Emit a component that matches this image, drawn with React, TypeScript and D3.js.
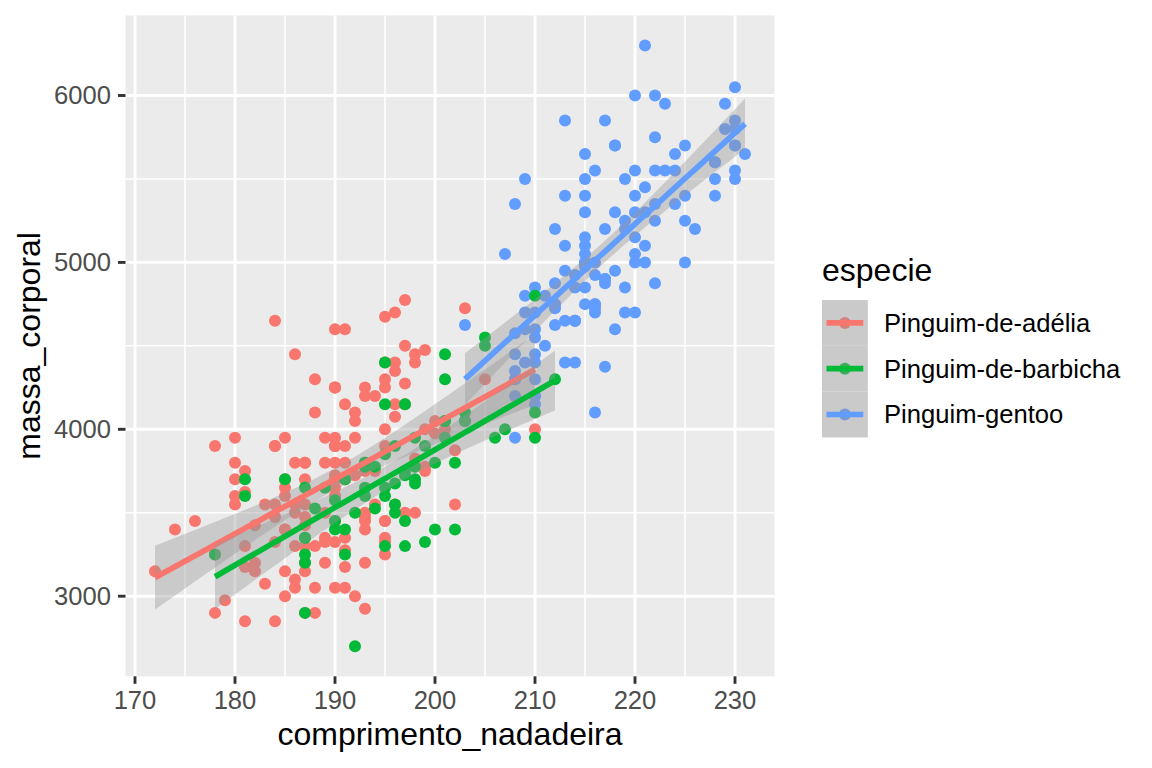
import React from "react";
import * as d3 from "d3";

// ---- data (flipper length mm, body mass g), in dataset order ----
const adeliaFlipper = [181,186,195,193,190,181,195,193,190,186,180,182,191,198,185,195,197,184,194,174,180,189,185,180,187,183,187,172,180,178,178,188,184,195,196,190,180,181,184,182,195,186,196,185,190,182,179,190,191,186,188,190,200,187,191,186,193,181,194,185,195,185,192,184,192,195,188,190,198,190,190,196,197,190,195,191,184,187,195,189,196,187,193,191,194,190,189,189,190,202,205,185,186,187,208,190,196,178,192,192,203,183,190,193,184,199,190,181,197,198,191,193,197,191,196,188,199,189,189,187,198,176,202,186,199,191,195,191,210,190,197,193,199,187,190,191,200,185,193,193,187,188,190,192,185,190,184,195,193,187,201];
const adeliaMass = [3750,3800,3250,3450,3650,3625,4675,3475,4250,3300,3700,3200,3800,4400,3700,3450,4500,3325,4200,3400,3600,3800,3950,3800,3800,3550,3200,3150,3950,3250,3900,3300,3900,3325,4150,3950,3550,3300,4650,3150,3900,3100,4400,3000,4600,3425,2975,3450,4150,3500,4300,3450,4050,2900,3700,3550,3800,2850,3750,3150,4400,3600,4050,2850,3950,3350,4100,3050,4450,3600,3900,3550,4150,3700,4250,3700,3900,3550,4000,3200,4700,3800,4200,3350,3550,3800,3500,3950,3600,3550,4300,3400,4450,3300,4300,3700,4350,2900,4100,3725,4725,3075,4250,2925,3550,3750,3900,3175,4775,3825,4600,3200,4275,3900,4075,2900,3775,3350,3325,3150,3500,3450,3875,3050,4000,3275,4300,3050,4000,3325,3500,3500,4475,3425,3900,3175,3975,3400,4250,3400,3475,3050,3725,3000,3650,4250,3475,3450,3750,3700,4000];
const gentooFlipper = [211,230,210,218,215,210,211,219,209,215,214,216,214,213,210,217,210,221,209,222,218,215,213,215,215,215,216,215,210,220,222,209,207,230,220,220,213,219,208,208,208,225,210,216,222,217,210,225,213,215,210,220,210,225,217,220,208,220,208,224,208,221,214,231,219,230,214,229,220,223,216,221,221,217,216,230,209,220,215,223,212,221,212,224,212,228,218,218,212,230,218,228,212,224,214,226,216,222,203,225,219,228,215,228,216,215,210,219,208,209,216,229,213,230,217,230,217,222,214,215,222,212,213];
const gentooMass = [4500,5700,4450,5700,5400,4550,4800,5200,4400,5150,4650,5550,4650,5850,4200,5850,4150,6300,4800,5350,5700,5000,4400,5050,5000,5100,4100,5650,4600,5550,5250,4700,5050,6050,5150,5400,4950,5250,4350,5350,3950,5700,4300,4750,5550,4900,4200,5400,5100,5300,4850,5300,4400,5000,4900,5050,4300,5000,4450,5550,4200,5300,4400,5650,4700,5700,4650,5800,4700,5550,4750,5000,5100,5200,4700,5800,4600,6000,4750,5950,4625,5450,4725,5350,4750,5600,4600,5300,4875,5550,4950,5400,4750,5650,4850,5200,4925,4875,4625,5250,4850,5600,4975,5500,4725,5500,4700,5500,4575,5500,5000,5950,4650,5500,4375,5850,4875,6000,4925,4850,5750,5200,5400];
const barbichaFlipper = [192,196,193,188,197,198,178,197,195,198,193,194,185,201,190,201,197,181,190,195,181,191,187,193,195,197,200,200,191,205,187,201,187,203,195,199,195,210,192,205,210,187,196,196,196,201,190,212,187,198,199,201,193,203,187,197,191,203,202,194,206,189,195,207,202,193,210,198];
const barbichaMass = [3500,3900,3650,3525,3725,3950,3250,3750,4150,3700,3800,3775,3700,4050,3575,4050,3300,3700,3450,4400,3600,3400,2900,3800,3300,4150,3400,3800,3700,4550,3200,4300,3350,4100,3600,3900,3850,4800,2700,4500,3950,3650,3550,3500,3675,4450,3400,4300,3250,3675,3325,3950,3600,4050,3350,3450,3250,4050,3800,3525,3950,3650,3650,4000,3400,3775,4100,3775];

const speciesNames = ["Pinguim-de-adélia", "Pinguim-de-barbicha", "Pinguim-gentoo"];
const speciesColors = ["#F8766D", "#00BA38", "#619CFF"];
const xTicks = [170, 180, 190, 200, 210, 220, 230];
const xMinor = [175, 185, 195, 205, 215, 225];
const yTicks = [3000, 4000, 5000, 6000];
const yMinor = [3500, 4500, 5500];
const xTitle = "comprimento_nadadeira";
const yTitle = "massa_corporal";
const legendTitle = "especie";

const W = 1152, H = 768;
const panel = { left: 125.5, right: 774.5, top: 15.4, bottom: 676.3 };
const FONT = "'Liberation Sans', Arial, Helvetica, sans-serif";

function tQuantile(df: number) {
  const z = 1.959963985;
  return z + (z ** 3 + z) / (4 * df) + (5 * z ** 5 + 16 * z ** 3 + 3 * z) / (96 * df * df) +
    (3 * z ** 7 + 19 * z ** 5 + 17 * z ** 3 - 15 * z) / (384 * df ** 3);
}

function lmFit(xs: number[], ys: number[]) {
  const n = xs.length;
  const mx = d3.mean(xs)!, my = d3.mean(ys)!;
  let sxx = 0, sxy = 0;
  for (let i = 0; i < n; i++) { sxx += (xs[i] - mx) ** 2; sxy += (xs[i] - mx) * (ys[i] - my); }
  const b = sxy / sxx, a = my - b * mx;
  let sse = 0;
  for (let i = 0; i < n; i++) sse += (ys[i] - a - b * xs[i]) ** 2;
  const s = Math.sqrt(sse / (n - 2));
  const t = tQuantile(n - 2);
  const [lo, hi] = d3.extent(xs) as [number, number];
  return d3.range(80).map((i) => {
    const xv = lo + ((hi - lo) * i) / 79;
    const fit = a + b * xv;
    const se = s * Math.sqrt(1 / n + (xv - mx) ** 2 / sxx);
    return { x: xv, y: fit, lo: fit - t * se, hi: fit + t * se };
  });
}

export default function App() {
  const groups = [
    { xs: adeliaFlipper, ys: adeliaMass },
    { xs: barbichaFlipper, ys: barbichaMass },
    { xs: gentooFlipper, ys: gentooMass },
  ];
  const allX = [...adeliaFlipper, ...gentooFlipper, ...barbichaFlipper];
  const allY = [...adeliaMass, ...gentooMass, ...barbichaMass];
  const [x0, x1] = d3.extent(allX) as [number, number];
  const [y0, y1] = d3.extent(allY) as [number, number];
  const ex = (x1 - x0) * 0.05, ey = (y1 - y0) * 0.05;
  const x = d3.scaleLinear().domain([x0 - ex, x1 + ex]).range([panel.left, panel.right]);
  const y = d3.scaleLinear().domain([y0 - ey, y1 + ey]).range([panel.bottom, panel.top]);

  // draw order of points follows dataset: adelie, gentoo, chinstrap
  const pointOrder = [0, 2, 1];
  const fits = groups.map((g) => lmFit(g.xs, g.ys));
  const area = d3.area<any>().x((d) => x(d.x)).y0((d) => y(d.lo)).y1((d) => y(d.hi));
  const line = d3.line<any>().x((d) => x(d.x)).y((d) => y(d.y));

  const keyX = 822, keyY = 300, keyS = 45.8;

  return (
    <svg width={W} height={H} style={{ position: "absolute", left: 0, top: 0, background: "#fff" }} fontFamily={FONT}>
      <rect x={0} y={0} width={W} height={H} fill="#FFFFFF" />
      <rect x={panel.left} y={panel.top} width={panel.right - panel.left} height={panel.bottom - panel.top} fill="#EBEBEB" />
      {xMinor.map((v) => (
        <line key={"xm" + v} x1={x(v)} x2={x(v)} y1={panel.top} y2={panel.bottom} stroke="#FFFFFF" strokeWidth={1.5} />
      ))}
      {yMinor.map((v) => (
        <line key={"ym" + v} y1={y(v)} y2={y(v)} x1={panel.left} x2={panel.right} stroke="#FFFFFF" strokeWidth={1.5} />
      ))}
      {xTicks.map((v) => (
        <line key={"xg" + v} x1={x(v)} x2={x(v)} y1={panel.top} y2={panel.bottom} stroke="#FFFFFF" strokeWidth={2.9} />
      ))}
      {yTicks.map((v) => (
        <line key={"yg" + v} y1={y(v)} y2={y(v)} x1={panel.left} x2={panel.right} stroke="#FFFFFF" strokeWidth={2.9} />
      ))}
      {pointOrder.map((gi) => (
        <g key={"pts" + gi} fill={speciesColors[gi]}>
          {groups[gi].xs.map((xv, i) => (
            <circle key={i} cx={x(xv)} cy={y(groups[gi].ys[i])} r={6} />
          ))}
        </g>
      ))}
      {fits.map((f, gi) => (
        <g key={"fit" + gi}>
          <path d={area(f)!} fill="#999999" fillOpacity={0.4} />
          <path d={line(f)!} fill="none" stroke={speciesColors[gi]} strokeWidth={5.7} />
        </g>
      ))}
      {/* axes */}
      {xTicks.map((v) => (
        <g key={"xt" + v}>
          <line x1={x(v)} x2={x(v)} y1={panel.bottom} y2={panel.bottom + 7.5} stroke="#333333" strokeWidth={2.9} />
          <text x={x(v)} y={709} textAnchor="middle" fontSize={25.6} fill="#4D4D4D">{v}</text>
        </g>
      ))}
      {yTicks.map((v) => (
        <g key={"yt" + v}>
          <line x1={panel.left - 7.5} x2={panel.left} y1={y(v)} y2={y(v)} stroke="#333333" strokeWidth={2.9} />
          <text x={111} y={y(v)} dy="0.35em" textAnchor="end" fontSize={25.6} fill="#4D4D4D">{v}</text>
        </g>
      ))}
      <text x={(panel.left + panel.right) / 2} y={745} textAnchor="middle" fontSize={32} fill="#000">{xTitle}</text>
      <text transform={`translate(40,${(panel.top + panel.bottom) / 2}) rotate(-90)`} textAnchor="middle" fontSize={32} fill="#000">{yTitle}</text>
      {/* legend */}
      <text x={keyX} y={281} fontSize={32} fill="#000">{legendTitle}</text>
      {speciesNames.map((name, i) => {
        const cy = keyY + keyS * i + keyS / 2;
        return (
          <g key={"lg" + i}>
            <rect x={keyX} y={keyY + keyS * i} width={keyS} height={keyS} fill="#EBEBEB" />
            <circle cx={keyX + keyS / 2} cy={cy} r={6} fill={speciesColors[i]} />
            <rect x={keyX} y={keyY + keyS * i} width={keyS} height={keyS} fill="#999999" fillOpacity={0.4} />
            <line x1={keyX + 4.5} x2={keyX + keyS - 4.5} y1={cy} y2={cy} stroke={speciesColors[i]} strokeWidth={5.7} />
            <text x={884} y={cy} dy="0.35em" fontSize={25.6} fill="#000">{name}</text>
          </g>
        );
      })}
    </svg>
  );
}
